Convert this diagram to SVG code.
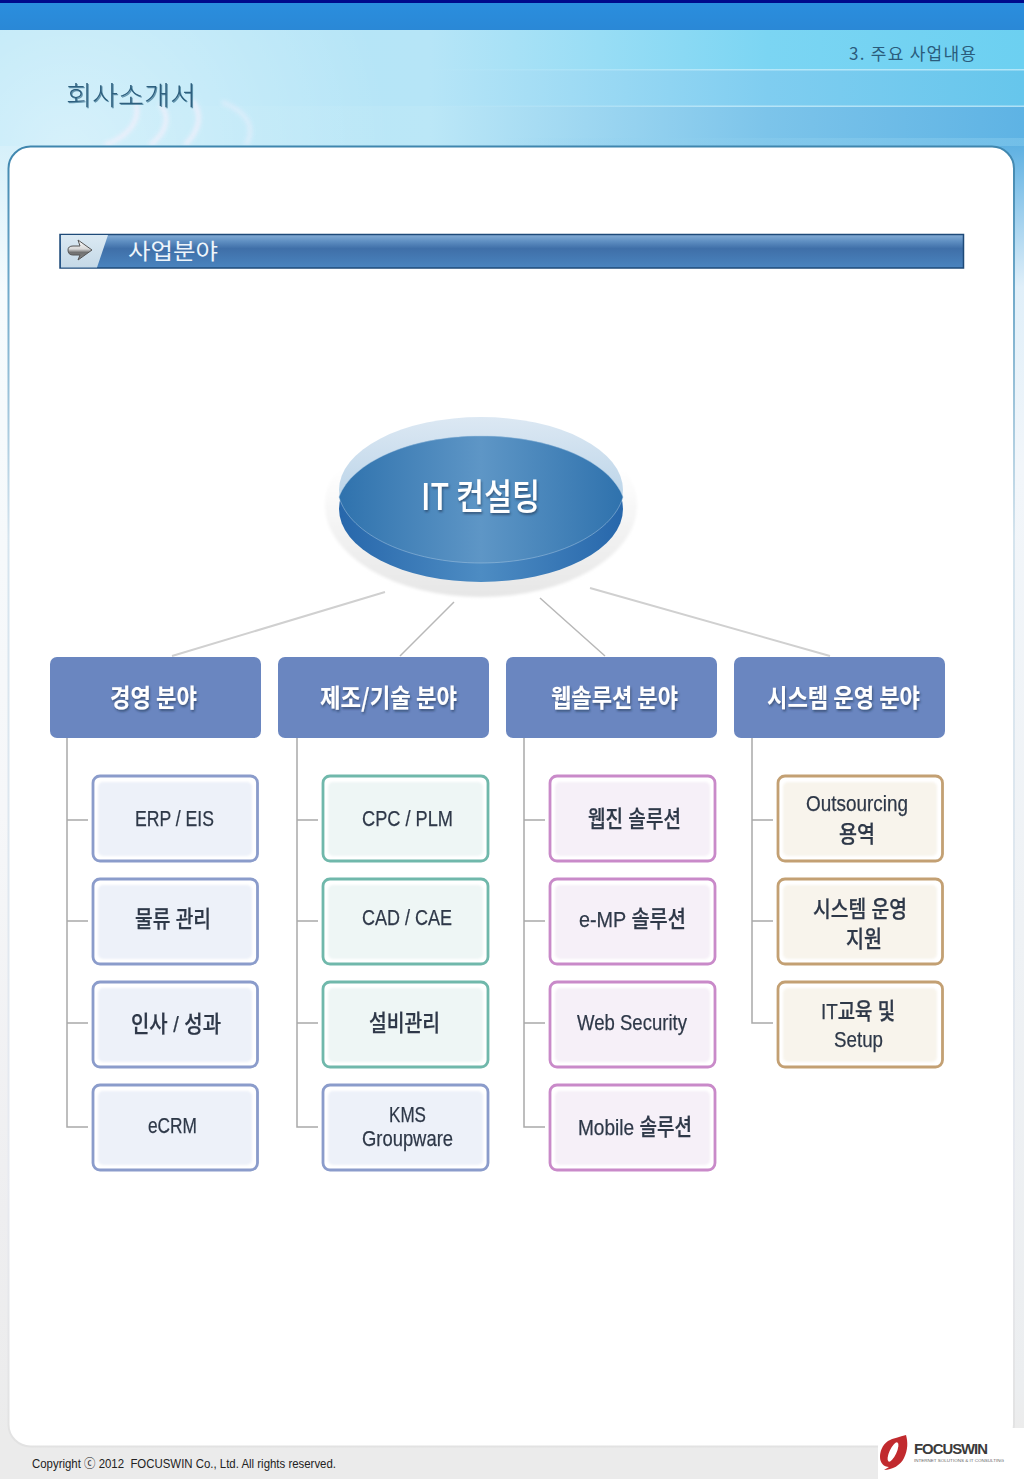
<svg xmlns="http://www.w3.org/2000/svg" width="1024" height="1479" viewBox="0 0 1024 1479">
<style>
text{font-family:"Noto Sans CJK KR","Noto Sans",sans-serif;dominant-baseline:central;white-space:pre}
.t{font-family:"Liberation Sans","Noto Sans CJK KR",sans-serif;font-size:22.500px;font-weight:500;fill:#2e3848;stroke:#2e3848;stroke-width:0.25;filter:url(#soft)}
.h{font-size:25px;font-weight:700;fill:#fff;filter:url(#shadow)}
.box{stroke-width:2.800}
.inner{filter:url(#soft2)}
.b .box{stroke:#8b9ccb}.b .inner{fill:#edf1f9}
.g .box{stroke:#70b8ab}.g .inner{fill:#eef6f5}
.p .box{stroke:#c98ac9}.p .inner{fill:#f6f0f8}
.o .box{stroke:#c3a073}.o .inner{fill:#f8f4ec}
.head{fill:#6a86c0}
.tree{fill:none;stroke:#a9a9a9;stroke-width:1.5}
.top{fill:none;stroke:#d0d0d0;stroke-width:2}
.top2{fill:none;stroke:#b8b8b8;stroke-width:1.5}
</style>
<defs>
<filter id="soft" x="-10%" y="-20%" width="120%" height="140%"><feGaussianBlur stdDeviation="0.35"/></filter>
<filter id="soft2" x="-10%" y="-10%" width="120%" height="120%"><feGaussianBlur stdDeviation="1.2"/></filter>
<filter id="shadow" x="-10%" y="-20%" width="125%" height="150%"><feDropShadow dx="1" dy="2" stdDeviation="1.2" flood-color="#24364f" flood-opacity="0.6"/></filter>
<filter id="titleShadow" x="-10%" y="-20%" width="125%" height="150%"><feDropShadow dx="1" dy="1" stdDeviation="0.5" flood-color="#1e5a7c" flood-opacity="0.6"/></filter>
<filter id="blur2" x="-50%" y="-30%" width="200%" height="160%"><feGaussianBlur stdDeviation="2.2"/></filter>
<filter id="blur1" x="-10%" y="-10%" width="120%" height="120%"><feGaussianBlur stdDeviation="1.5"/></filter>
<filter id="blurLogo" x="-10%" y="-10%" width="120%" height="120%"><feGaussianBlur stdDeviation="0.5"/></filter>
<linearGradient id="strip" x1="0" y1="0" x2="0" y2="1"><stop offset="0" stop-color="#2a8ede"/><stop offset="1" stop-color="#2a88d6"/></linearGradient>
<linearGradient id="sky" x1="0" y1="0" x2="1" y2="0"><stop offset="0" stop-color="#b4e5f7"/><stop offset="0.42" stop-color="#b6e5f7"/><stop offset="0.75" stop-color="#7bd5f3"/><stop offset="1" stop-color="#6cd0f1"/></linearGradient>
<linearGradient id="sky2" x1="0" y1="0" x2="1" y2="0"><stop offset="0" stop-color="#b4e5f7"/><stop offset="0.42" stop-color="#b6e5f7"/><stop offset="0.75" stop-color="#7fcdf0"/><stop offset="1" stop-color="#66c6ec"/></linearGradient>
<linearGradient id="sky3" x1="0" y1="0" x2="1" y2="0"><stop offset="0" stop-color="#b4e5f7"/><stop offset="0.42" stop-color="#bbe7f7"/><stop offset="0.75" stop-color="#7cc4ea"/><stop offset="1" stop-color="#5eb3e4"/></linearGradient>
<radialGradient id="wash" gradientUnits="userSpaceOnUse" cx="70" cy="150" r="320"><stop offset="0" stop-color="#fff" stop-opacity="0.45"/><stop offset="1" stop-color="#fff" stop-opacity="0"/></radialGradient>
<linearGradient id="fadeR" x1="0" y1="0" x2="1" y2="0"><stop offset="0" stop-color="#c4ecfa" stop-opacity="0"/><stop offset="0.5" stop-color="#c4ecfa" stop-opacity="0.8"/></linearGradient>
<linearGradient id="fadeB" x1="0" y1="0" x2="1" y2="0"><stop offset="0" stop-color="#8fd0ee" stop-opacity="0"/><stop offset="0.6" stop-color="#8fd0ee" stop-opacity="0.4"/></linearGradient>
<linearGradient id="side" x1="0" y1="0" x2="0" y2="1"><stop offset="0" stop-color="#5fb1e2"/><stop offset="0.11" stop-color="#e0eff9"/><stop offset="0.25" stop-color="#f2f6fa"/><stop offset="0.97" stop-color="#eceef0"/><stop offset="1" stop-color="#ececec"/></linearGradient>
<linearGradient id="sideL" x1="0" y1="0" x2="0" y2="1"><stop offset="0" stop-color="#d6f0fa"/><stop offset="0.11" stop-color="#f6fbfd"/><stop offset="0.5" stop-color="#f6f7f9"/><stop offset="0.8" stop-color="#eeeef0"/><stop offset="1" stop-color="#ebebeb"/></linearGradient>
<linearGradient id="panelStroke" x1="0" y1="0" x2="0" y2="1"><stop offset="0" stop-color="#3f86ae"/><stop offset="0.1" stop-color="#6aa6c8"/><stop offset="0.3" stop-color="#d5e4ee"/><stop offset="0.8" stop-color="#e8eaf0"/><stop offset="1" stop-color="#e2e2e2"/></linearGradient>
<linearGradient id="bar" x1="0" y1="0" x2="0" y2="1"><stop offset="0" stop-color="#86aed6"/><stop offset="0.2" stop-color="#5f8fc2"/><stop offset="0.42" stop-color="#3f6fa8"/><stop offset="1" stop-color="#4a84bf"/></linearGradient>
<linearGradient id="icon" x1="0" y1="0" x2="0" y2="1"><stop offset="0" stop-color="#dbe9f3"/><stop offset="1" stop-color="#c5d9e7"/></linearGradient>
<linearGradient id="arrow" x1="0" y1="0" x2="0" y2="1"><stop offset="0" stop-color="#ffffff"/><stop offset="0.45" stop-color="#d8d8d8"/><stop offset="0.62" stop-color="#707070"/><stop offset="1" stop-color="#8a8a8a"/></linearGradient>
<linearGradient id="top" x1="0" y1="0" x2="1" y2="0"><stop offset="0" stop-color="#2f72ad"/><stop offset="0.5" stop-color="#5e96c6"/><stop offset="1" stop-color="#2f72ad"/></linearGradient>
<linearGradient id="rim" x1="0" y1="0" x2="1" y2="0"><stop offset="0" stop-color="#2767ab"/><stop offset="0.5" stop-color="#4d8cc3"/><stop offset="1" stop-color="#2767ab"/></linearGradient>
<linearGradient id="lid" x1="0" y1="0" x2="0" y2="1"><stop offset="0" stop-color="#dce8f3"/><stop offset="0.6" stop-color="#b9d3e8"/></linearGradient>
<linearGradient id="halo" x1="0" y1="0" x2="0" y2="1"><stop offset="0.3" stop-color="#ffffff"/><stop offset="0.6" stop-color="#f4f4f4"/><stop offset="1" stop-color="#e6e6e6"/></linearGradient>
</defs>

<g id="background">
<rect width="1024" height="1479" fill="#fff"/>
<rect x="0" y="146" width="30" height="1333" fill="url(#sideL)"/>
<rect x="990" y="146" width="34" height="1282" fill="url(#side)"/>
<rect x="0" y="1430" width="878" height="49" fill="#ebebeb"/>
<rect width="1024" height="3" fill="#000a8c"/>
<rect y="3" width="1024" height="27" fill="url(#strip)"/>
<rect y="30" width="1024" height="40" fill="url(#sky)"/>
<rect y="70" width="1024" height="36" fill="url(#sky2)"/>
<rect y="106" width="1024" height="40" fill="url(#sky3)"/>
<rect y="30" width="400" height="116" fill="url(#wash)"/>
<rect y="69" x="420" width="604" height="1.5" fill="url(#fadeR)"/>
<rect y="105.500" x="420" width="604" height="1.5" fill="url(#fadeR)"/>
<rect y="138" x="500" width="524" height="8" fill="url(#fadeB)"/>
<g fill="none" stroke="#f6f0fb" stroke-width="4" opacity="0.85" filter="url(#blur2)">
<path d="M105 145C125 138 143 122 135 100"/>
<path d="M150 145C165 134 172 118 160 104"/>
<path d="M185 145C200 130 203 115 192 100"/>
<path d="M246 145C256 128 248 112 222 102" opacity="0.6"/>
</g>
<rect x="8.500" y="146.500" width="1005.500" height="1300" rx="22" fill="#fff" stroke="url(#panelStroke)" stroke-width="2"/>
<text x="66" y="93" font-size="26" fill="#2d5f7e" textLength="130" lengthAdjust="spacingAndGlyphs" font-weight="300" filter="url(#titleShadow)">회사소개서</text>
<text x="849" y="52.500" font-size="17" fill="#2a5c7c" textLength="127" lengthAdjust="spacing">3. 주요 사업내용</text>
</g>

<g id="title-bar">
<rect x="60" y="234.500" width="903.500" height="33.500" fill="url(#bar)" stroke="#1e4a78" stroke-width="1.5"/>
<polygon points="61,235 108,235 97,267.500 61,267.500" fill="url(#icon)"/>
<path d="M68 250Q68 246 73 246L80 246L78 240L92 250L78 260L80 255L73 255Q68 255 68 250Z" fill="url(#arrow)" stroke="#555" stroke-width="1"/>
<text x="128" y="249" font-size="22" fill="#eef5fb" textLength="90" lengthAdjust="spacingAndGlyphs">사업분야</text>
</g>

<g id="connectors">
<path class="top" d="M385 592L172 656M590 588L830 656"/>
<path class="top2" d="M454 602L400 656M540 598L605 656"/>
<path class="tree" d="M67 738V1127H88M67 820H88M67 921H88M67 1023H88"/>
<path class="tree" d="M297 738V1127H318M297 820H318M297 921H318M297 1023H318"/>
<path class="tree" d="M524 738V1127H545M524 820H545M524 921H545M524 1023H545"/>
<path class="tree" d="M752 738V1023H773M752 820H773M752 921H773"/>
</g>

<g id="node-it">
<ellipse cx="481" cy="505" rx="156" ry="92" fill="url(#halo)" filter="url(#blur1)"/>
<ellipse cx="481" cy="490" rx="142" ry="73" fill="url(#lid)"/>
<ellipse cx="481" cy="509" rx="142" ry="73" fill="url(#rim)"/>
<path d="M339 497C352 462 410 436 481 436C552 436 610 462 623 497C612 535 552 563 481 563C410 563 350 535 339 497Z" fill="url(#top)" stroke="#a9c8e2" stroke-width="0.7" stroke-opacity="0.7"/>
<text class="h" x="421" y="494" style="font-size:36px;font-weight:500" textLength="119" lengthAdjust="spacingAndGlyphs">IT 컨설팅</text>
</g>

<g id="head-1"><rect class="head" x="50" y="657" width="211" height="81" rx="7"/><text class="h" x="110" y="696" textLength="87" lengthAdjust="spacingAndGlyphs">경영 분야</text></g>
<g id="head-2"><rect class="head" x="278" y="657" width="211" height="81" rx="7"/><text class="h" x="320" y="696" textLength="137" lengthAdjust="spacingAndGlyphs">제조/기술 분야</text></g>
<g id="head-3"><rect class="head" x="506" y="657" width="211" height="81" rx="7"/><text class="h" x="551" y="696" textLength="127" lengthAdjust="spacingAndGlyphs">웹솔루션 분야</text></g>
<g id="head-4"><rect class="head" x="734" y="657" width="211" height="81" rx="7"/><text class="h" x="767" y="696" textLength="153" lengthAdjust="spacingAndGlyphs">시스템 운영 분야</text></g>

<g id="n-erp" class="b"><rect class="box" x="93" y="776" width="164.500" height="85" rx="7" fill="#fff"/><rect class="inner" x="98" y="782" width="154" height="74" rx="5"/><text class="t" x="135" y="818" textLength="79" lengthAdjust="spacingAndGlyphs">ERP / EIS</text></g>
<g id="n-logi" class="b"><rect class="box" x="93" y="879" width="164.500" height="85" rx="7" fill="#fff"/><rect class="inner" x="98" y="885" width="154" height="74" rx="5"/><text class="t" x="135" y="919" textLength="76" lengthAdjust="spacingAndGlyphs">물류 관리</text></g>
<g id="n-hr" class="b"><rect class="box" x="93" y="982" width="164.500" height="85" rx="7" fill="#fff"/><rect class="inner" x="98" y="988" width="154" height="74" rx="5"/><text class="t" x="131" y="1024" textLength="90" lengthAdjust="spacingAndGlyphs">인사 / 성과</text></g>
<g id="n-ecrm" class="b"><rect class="box" x="93" y="1085" width="164.500" height="85" rx="7" fill="#fff"/><rect class="inner" x="98" y="1091" width="154" height="74" rx="5"/><text class="t" x="148" y="1125" textLength="49" lengthAdjust="spacingAndGlyphs">eCRM</text></g>

<g id="n-cpc" class="g"><rect class="box" x="323" y="776" width="165" height="85" rx="7" fill="#fff"/><rect class="inner" x="328" y="782" width="155" height="74" rx="5"/><text class="t" x="362" y="818" textLength="91" lengthAdjust="spacingAndGlyphs">CPC / PLM</text></g>
<g id="n-cad" class="g"><rect class="box" x="323" y="879" width="165" height="85" rx="7" fill="#fff"/><rect class="inner" x="328" y="885" width="155" height="74" rx="5"/><text class="t" x="362" y="917.500" textLength="90" lengthAdjust="spacingAndGlyphs">CAD / CAE</text></g>
<g id="n-fac" class="g"><rect class="box" x="323" y="982" width="165" height="85" rx="7" fill="#fff"/><rect class="inner" x="328" y="988" width="155" height="74" rx="5"/><text class="t" x="369" y="1023" textLength="71" lengthAdjust="spacingAndGlyphs">설비관리</text></g>
<g id="n-kms" class="b"><rect class="box" x="323" y="1085" width="165" height="85" rx="7" fill="#fff"/><rect class="inner" x="328" y="1091" width="155" height="74" rx="5"/><text class="t" x="389" y="1114" textLength="37" lengthAdjust="spacingAndGlyphs">KMS</text><text class="t" x="362" y="1138" textLength="91" lengthAdjust="spacingAndGlyphs">Groupware</text></g>

<g id="n-web" class="p"><rect class="box" x="550" y="776" width="165" height="85" rx="7" fill="#fff"/><rect class="inner" x="555" y="782" width="155" height="74" rx="5"/><text class="t" x="588" y="819" textLength="93" lengthAdjust="spacingAndGlyphs">웹진 솔루션</text></g>
<g id="n-emp" class="p"><rect class="box" x="550" y="879" width="165" height="85" rx="7" fill="#fff"/><rect class="inner" x="555" y="885" width="155" height="74" rx="5"/><text class="t" x="579" y="919" textLength="107" lengthAdjust="spacingAndGlyphs">e-MP 솔루션</text></g>
<g id="n-sec" class="p"><rect class="box" x="550" y="982" width="165" height="85" rx="7" fill="#fff"/><rect class="inner" x="555" y="988" width="155" height="74" rx="5"/><text class="t" x="577" y="1022" textLength="110" lengthAdjust="spacingAndGlyphs">Web Security</text></g>
<g id="n-mob" class="p"><rect class="box" x="550" y="1085" width="165" height="85" rx="7" fill="#fff"/><rect class="inner" x="555" y="1091" width="155" height="74" rx="5"/><text class="t" x="578" y="1127" textLength="114" lengthAdjust="spacingAndGlyphs">Mobile 솔루션</text></g>

<g id="n-out" class="o"><rect class="box" x="778" y="776" width="164.500" height="85" rx="7" fill="#fff"/><rect class="inner" x="783" y="782" width="154" height="74" rx="5"/><text class="t" x="806" y="803" textLength="102" lengthAdjust="spacingAndGlyphs">Outsourcing</text><text class="t" x="839" y="834" textLength="36" lengthAdjust="spacingAndGlyphs">용역</text></g>
<g id="n-sys" class="o"><rect class="box" x="778" y="879" width="164.500" height="85" rx="7" fill="#fff"/><rect class="inner" x="783" y="885" width="154" height="74" rx="5"/><text class="t" x="813" y="909" textLength="94" lengthAdjust="spacingAndGlyphs">시스템 운영</text><text class="t" x="846" y="939" textLength="36" lengthAdjust="spacingAndGlyphs">지원</text></g>
<g id="n-edu" class="o"><rect class="box" x="778" y="982" width="164.500" height="85" rx="7" fill="#fff"/><rect class="inner" x="783" y="988" width="154" height="74" rx="5"/><text class="t" x="821" y="1011" textLength="74" lengthAdjust="spacingAndGlyphs">IT교육 및</text><text class="t" x="834" y="1039" textLength="49" lengthAdjust="spacingAndGlyphs">Setup</text></g>

<g id="footer">
<rect x="878" y="1428" width="146" height="51" fill="#fff"/>
<g filter="url(#blurLogo)">
<path d="M906 1435C900 1437 893 1438 888 1441C882 1445 880 1452 880 1457C880 1463 884 1467 889 1467L884 1470C892 1470 901 1465 904 1458C908 1450 908 1442 906 1435Z" fill="#c12a2e"/>
<ellipse cx="893" cy="1452" rx="3.500" ry="10.500" transform="rotate(25 893 1452)" fill="#fff"/>
</g>
<text x="914" y="1448" font-size="15" style="font-family:'Liberation Sans',sans-serif;letter-spacing:-1px" fill="#3b3b3b" font-weight="700" textLength="73" lengthAdjust="spacingAndGlyphs">FOCUSWIN</text>
<text x="914" y="1460" font-size="4" style="font-family:'Liberation Sans',sans-serif" fill="#666" textLength="90" lengthAdjust="spacingAndGlyphs">INTERNET SOLUTIONS &amp; IT CONSULTING</text>
<text x="32" y="1464" font-size="12.500" style="font-family:'Liberation Sans','Noto Sans CJK KR',sans-serif" fill="#222" textLength="304" lengthAdjust="spacingAndGlyphs">Copyright ⓒ 2012  FOCUSWIN Co., Ltd. All rights reserved.</text>
</g>
</svg>
